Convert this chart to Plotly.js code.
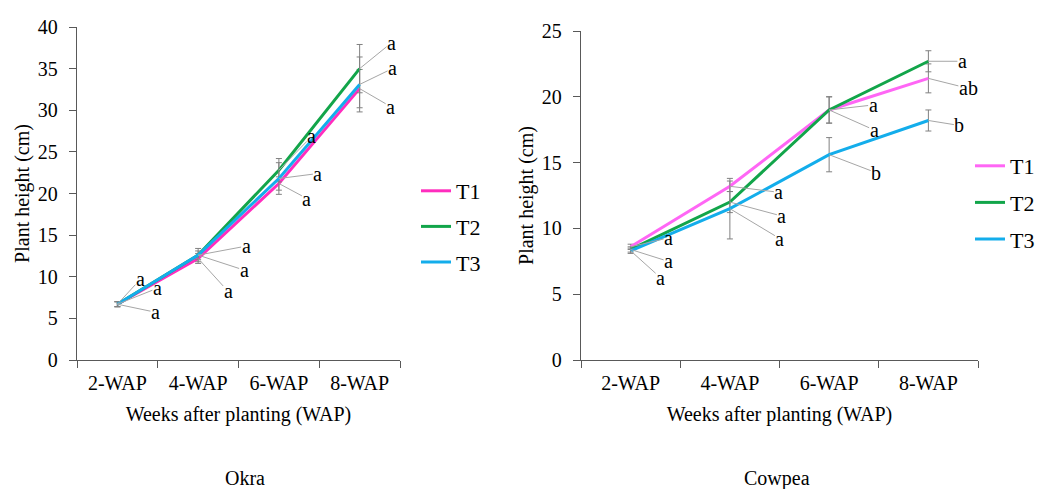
<!DOCTYPE html>
<html>
<head>
<meta charset="utf-8">
<script src="https://cdn.plot.ly/plotly-3.0.1.min.js"></script>
<style>html,body{margin:0;padding:0;background:#fff;}#chart{width:1041px;height:489px;}</style>
</head>
<body>
<div id="chart"></div>
<script>
// ---- data ----
const weeks = ['2-WAP', '4-WAP', '6-WAP', '8-WAP'];
const treatments = ['T1', 'T2', 'T3'];

// Okra plant height (cm)
const okraT1 = [6.7, 12.2, 21.2, 32.6];
const okraT2 = [6.7, 12.6, 22.8, 35.0];
const okraT3 = [6.7, 12.6, 21.8, 33.1];
const okraErrT1 = [0.3, 0.6, 0.8, 2.3];
const okraErrT2 = [0.3, 0.8, 1.4, 2.9];
const okraErrT3 = [0.3, 0.5, 1.9, 3.3];
const okraLetT1 = ['a', 'a', 'a', 'a'];
const okraLetT2 = ['a', 'a', 'a', 'a'];
const okraLetT3 = ['a', 'a', 'a', 'a'];

// Cowpea plant height (cm)
const cowT1 = [8.6, 13.2, 19.0, 21.4];
const cowT2 = [8.4, 12.0, 19.0, 22.7];
const cowT3 = [8.3, 11.5, 15.6, 18.2];
const cowErrT1 = [0.2, 0.4, 1.0, 1.1];
const cowErrT2 = [0.2, 0.8, 1.0, 0.8];
const cowErrT3 = [0.2, 2.3, 1.3, 0.8];
const cowLetT1 = ['a', 'a', 'a', 'ab'];
const cowLetT2 = ['a', 'a', 'a', 'a'];
const cowLetT3 = ['a', 'a', 'b', 'b'];

// ---- styling / label placement (pixel offsets of letters from their points) ----
const serif = '"Times New Roman", "Liberation Serif", "DejaVu Serif", serif';
const okraColors = ['#FF2DBE', '#12A54A', '#13ADEB'];
const cowColors = ['#FF66F5', '#12A54A', '#13ADEB'];
const okraOffsets = [
  [[38, 8], [30, 33], [28, 15], [31, 18]],
  [[23, -25], [48, -9], [33, -34], [32, -26]],
  [[40, -16], [46, 15], [39, -5], [33, -16]]
];
const cowOffsets = [
  [[38, -9], [49, 6], [44, -5], [40, 10]],
  [[38, 12], [52, 14], [45, 20], [34, 0]],
  [[30, 27], [50, 30], [47, 18], [31, 5]]
];

const okraVals = [okraT1, okraT2, okraT3];
const okraErrs = [okraErrT1, okraErrT2, okraErrT3];
const okraLets = [okraLetT1, okraLetT2, okraLetT3];
const cowVals = [cowT1, cowT2, cowT3];
const cowErrs = [cowErrT1, cowErrT2, cowErrT3];
const cowLets = [cowLetT1, cowLetT2, cowLetT3];

const traces = [];
const annotations = [];

function addSet(vals, errs, lets, colors, offsets, xa, ya, legendName) {
  treatments.forEach((t, i) => {
    traces.push({
      type: 'scatter', mode: 'lines', name: t,
      x: weeks, y: vals[i], xaxis: xa, yaxis: ya,
      line: {color: colors[i], width: 3},
      error_y: {type: 'data', array: errs[i], visible: true, color: '#808080', thickness: 1, width: 3},
      legend: legendName, legendgroup: legendName + t,
      hoverinfo: 'x+y+name'
    });
    weeks.forEach((w, j) => {
      annotations.push({
        x: w, y: vals[i][j], xref: xa, yref: ya,
        text: lets[i][j], showarrow: true, arrowhead: 0, arrowwidth: 1,
        arrowcolor: '#A6A6A6', ax: offsets[i][j][0], ay: offsets[i][j][1],
        standoff: 0, borderpad: 0, font: {family: serif, size: 20, color: '#000'}
      });
    });
  });
}
addSet(okraVals, okraErrs, okraLets, okraColors, okraOffsets, 'x', 'y', 'legend');
addSet(cowVals, cowErrs, cowLets, cowColors, cowOffsets, 'x2', 'y2', 'legend2');

annotations.push({text: 'Okra', xref: 'paper', yref: 'paper', x: 245/1041, y: 1 - 478/489,
  xanchor: 'center', yanchor: 'middle',
  showarrow: false, font: {family: serif, size: 20, color: '#000'}});
annotations.push({text: 'Cowpea', xref: 'paper', yref: 'paper', x: 777/1041, y: 1 - 478/489,
  xanchor: 'center', yanchor: 'middle',
  showarrow: false, font: {family: serif, size: 20, color: '#000'}});

const axisFont = {family: serif, size: 20, color: '#000'};
function xAxis(domain, anchor) {
  return {
    domain: domain, anchor: anchor, type: 'category', range: [-0.5, 3.5],
    tickson: 'boundaries', ticks: 'outside', ticklen: 7, tickcolor: '#595959',
    showline: true, linecolor: '#595959', linewidth: 1.3, showgrid: false, zeroline: false,
    tickfont: axisFont, ticklabelstandoff: 5,
    title: {text: 'Weeks after planting (WAP)', font: axisFont, standoff: 13}
  };
}
function yAxis(domain, anchor, max, dtick) {
  return {
    domain: domain, anchor: anchor, range: [0, max], dtick: dtick,
    ticks: 'outside', ticklen: 7, tickcolor: '#595959',
    showline: true, linecolor: '#595959', linewidth: 1.3, showgrid: false, zeroline: false,
    tickfont: axisFont, ticklabelstandoff: 7,
    title: {text: 'Plant height (cm)', font: axisFont, standoff: 2}
  };
}

const layout = {
  width: 1041, height: 489,
  margin: {l: 0, r: 0, t: 0, b: 0},
  paper_bgcolor: '#fff', plot_bgcolor: '#fff',
  font: {family: serif},
  showlegend: true,
  xaxis: xAxis([77/1041, 400/1041], 'y'),
  yaxis: yAxis([129/489, 462/489], 'x', 40, 5),
  xaxis2: xAxis([581/1041, 978/1041], 'y2'),
  yaxis2: yAxis([129/489, 458/489], 'x2', 25, 5),
  legend: {x: 416/1041, y: 1 - 170/489, xanchor: 'left', yanchor: 'top',
    font: {family: serif, size: 22, color: '#000'}, tracegroupgap: 4,
    traceorder: 'grouped', bgcolor: 'rgba(0,0,0,0)', itemwidth: 30},
  legend2: {x: 970/1041, y: 1 - 145/489, xanchor: 'left', yanchor: 'top',
    font: {family: serif, size: 22, color: '#000'}, tracegroupgap: 5,
    traceorder: 'grouped', bgcolor: 'rgba(0,0,0,0)', itemwidth: 30},
  annotations: annotations
};

Plotly.newPlot('chart', traces, layout, {displayModeBar: false, staticPlot: true});
</script>
</body>
</html>
